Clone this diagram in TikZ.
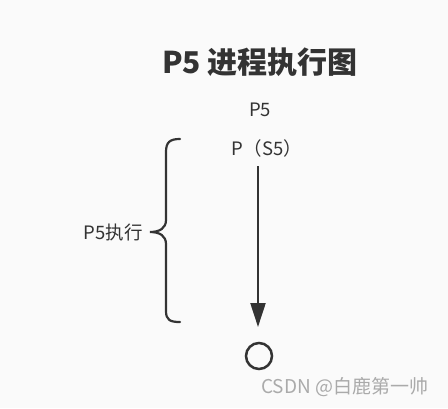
\documentclass[tikz,border=0pt]{standalone}
\usepackage{fontspec}
\setmainfont{Noto Sans CJK SC}
\usetikzlibrary{arrows.meta}
\definecolor{bg}{RGB}{250,250,250}
\definecolor{ink}{RGB}{51,51,51}
\definecolor{wm}{RGB}{170,170,170}
\begin{document}
\begin{tikzpicture}[x=1pt,y=-1pt,
  lbl/.style={inner sep=0pt,text=ink,font=\fontsize{18.5}{22}\selectfont},
  conn/.style={draw=ink,line width=2.2pt,-{Triangle[length=24pt,width=15pt]}}]
\fill[bg] (0,0) rectangle (448,408);
\useasboundingbox (0,0) rectangle (448,408);
\node[inner sep=0pt,text=ink,font=\fontsize{30}{34}\selectfont\bfseries] (title) at (260,62) {P5 进程执行图};
\node[lbl] (p5) at (260,110) {P5};
\node[lbl] (ps5) at (267,148) {P（S5）};
\coordinate (arrowEnd) at (258,327);
\coordinate (arrowStart) at (258,166);
\draw[conn] (arrowStart) -- (arrowEnd);
\node[circle,draw=ink,line width=2.5pt,minimum size=26pt,inner sep=0pt] (end) at (259,356) {};
\draw[ink,line width=2.2pt,line cap=round]
  (180,139) .. controls (170,139) and (166,142) .. (166,152)
  -- (166,220) .. controls (166,228) and (160,232) .. (150,232)
  .. controls (160,232) and (166,236) .. (166,244)
  -- (166,311) .. controls (166,320) and (170,322) .. (180,322);
\coordinate (braceTip) at (150,232);
\node[lbl,anchor=east] (exec) at (143,232) {P5执行};
\node[inner sep=0pt,text=wm,font=\fontsize{19}{22}\selectfont,anchor=west] (wmark) at (261,387) {CSDN @白鹿第一帅};
\end{tikzpicture}
\end{document}
